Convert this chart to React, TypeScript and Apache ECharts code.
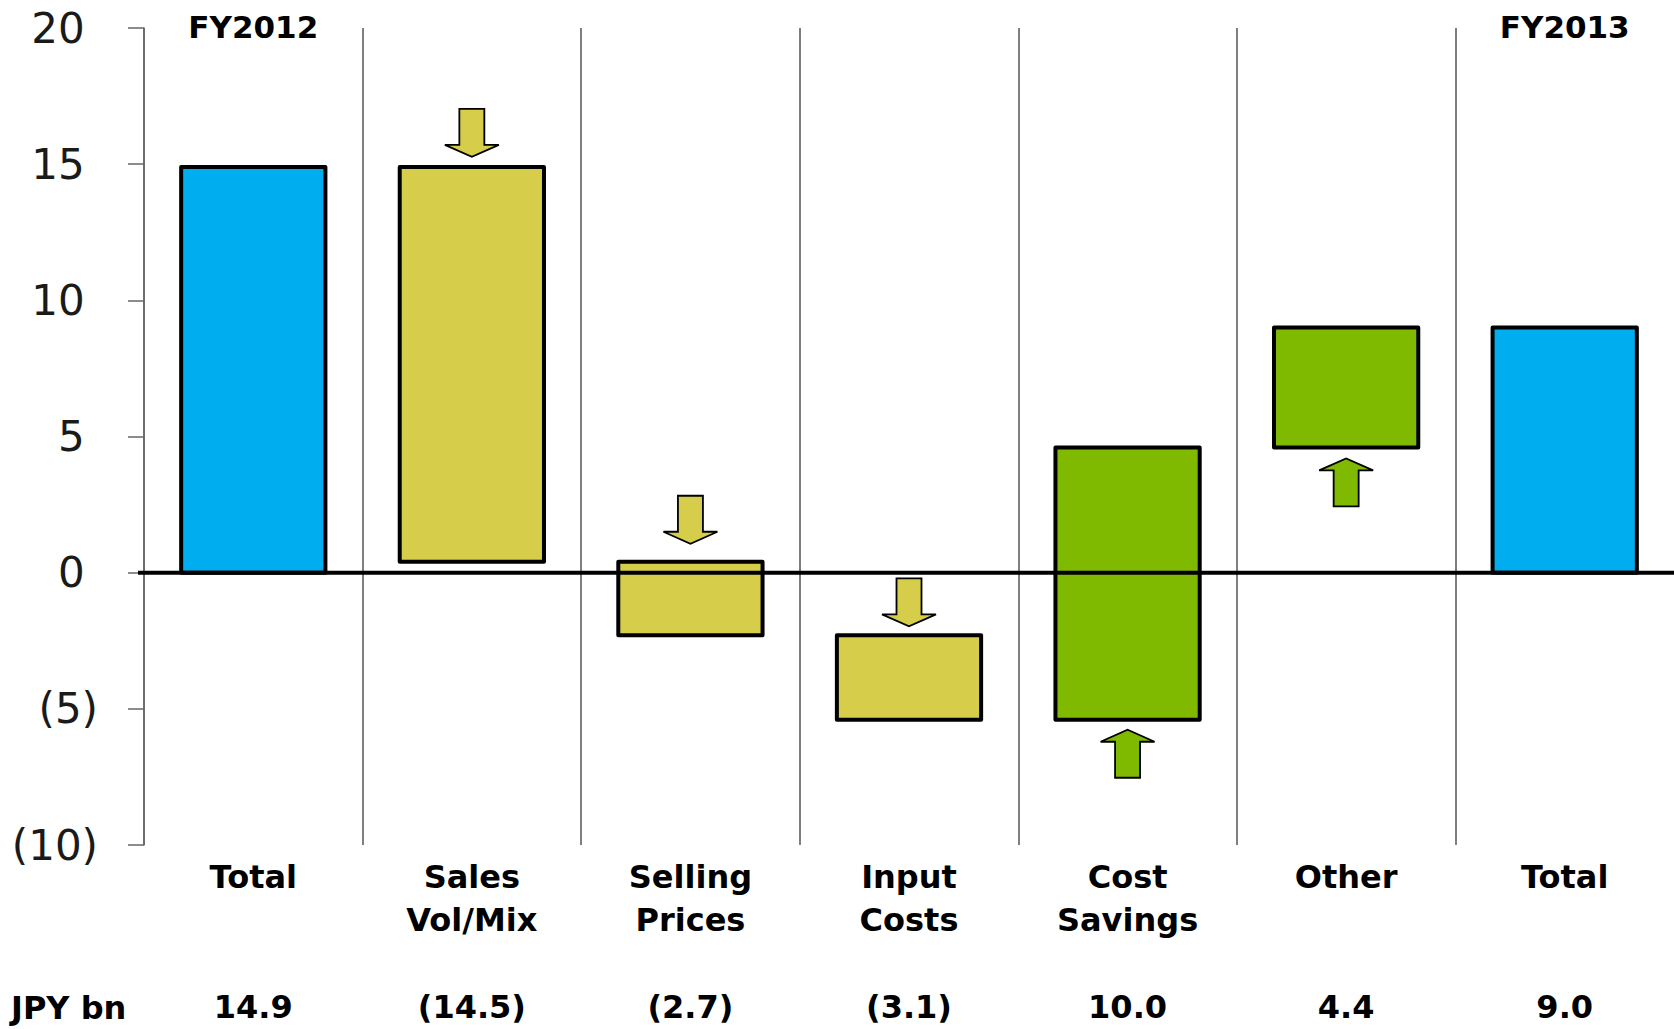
import React, { useEffect, useRef } from "react";
import * as echarts from "echarts";

// ---- data ----
const categories = ["Total", "Sales\nVol/Mix", "Selling\nPrices", "Input\nCosts", "Cost\nSavings", "Other", "Total"];
const topLabels = ["FY2012", "", "", "", "", "", "FY2013"];
const startTotal = 14.9;
const deltas = [-14.5, -2.7, -3.1, 10.0, 4.4];
const endTotal = 9.0;
const yTicks = [-10, -5, 0, 5, 10, 15, 20];

// ---- styles ----
const COLORS = { total: "#00AEEF", down: "#D6CD4A", up: "#80BA00" };
const KIND_COLORS = [COLORS.total, COLORS.down, COLORS.up];
const arrowGaps = [0, 10, 18, 9, 10, 11, 0];
const FONT = '"DejaVu Sans", Verdana, sans-serif';

function fmt(v: number) {
  return v < 0 ? `(${Math.abs(v).toFixed(1)})` : v.toFixed(1);
}

// build waterfall rows [index, low, high, kindCode]
const rows: number[][] = [];
const valueLabels: string[] = [];
rows.push([0, 0, startTotal, 0]);
valueLabels.push(fmt(startTotal));
let running = startTotal;
deltas.forEach((d, i) => {
  const next = running + d;
  rows.push([i + 1, Math.min(running, next), Math.max(running, next), d < 0 ? 1 : 2]);
  valueLabels.push(fmt(d));
  running = next;
});
rows.push([deltas.length + 1, 0, endTotal, 0]);
valueLabels.push(fmt(endTotal));

// category label + blank lines + value row (4 lines each)
const axisLabels = categories.map((c, i) => {
  const lines = c.split("\n");
  while (lines.length < 3) lines.push(" ");
  return lines.join("\n") + "\n" + valueLabels[i];
});

export default function App() {
  const ref = useRef<HTMLDivElement>(null);

  useEffect(() => {
    document.body.style.margin = "0";
    document.body.style.overflow = "hidden";
    if (!ref.current) return;
    const chart = echarts.init(ref.current, null, { renderer: "svg" });
    const lastIdx = rows.length - 1;

    const renderItem = (params: any, api: any) => {
      const idx = api.value(0);
      const low = api.value(1);
      const high = api.value(2);
      const kind = api.value(3);
      const pTop = api.coord([idx, high]);
      const pBot = api.coord([idx, low]);
      const bandW = api.size([1, 0])[0];
      const w = bandW * 0.66;
      const cx = pTop[0];
      const color = KIND_COLORS[kind];
      const children: any[] = [
        {
          type: "rect",
          shape: { x: cx - w / 2, y: pTop[1], width: w, height: pBot[1] - pTop[1] },
          style: { fill: color, stroke: "#000", lineWidth: 4, lineJoin: "round" },
        },
      ];
      const H = 48, headH = 12, headW = 54, shaftW = 25;
      const gap = arrowGaps[idx];
      if (kind === 1) {
        const tipY = pTop[1] - gap;
        const baseY = tipY - headH;
        const topY = tipY - H;
        children.push({
          type: "polygon",
          shape: {
            points: [
              [cx - shaftW / 2, topY], [cx + shaftW / 2, topY], [cx + shaftW / 2, baseY],
              [cx + headW / 2, baseY], [cx, tipY], [cx - headW / 2, baseY], [cx - shaftW / 2, baseY],
            ],
          },
          style: { fill: color, stroke: "#000", lineWidth: 1.8 },
        });
      } else if (kind === 2) {
        const tipY = pBot[1] + gap;
        const baseY = tipY + headH;
        const botY = tipY + H;
        children.push({
          type: "polygon",
          shape: {
            points: [
              [cx - shaftW / 2, botY], [cx + shaftW / 2, botY], [cx + shaftW / 2, baseY],
              [cx + headW / 2, baseY], [cx, tipY], [cx - headW / 2, baseY], [cx - shaftW / 2, baseY],
            ],
          },
          style: { fill: color, stroke: "#000", lineWidth: 1.8 },
        });
      }
      const lbl = topLabels[idx];
      if (lbl) {
        const pt = api.coord([idx, 20]);
        children.push({
          type: "text",
          x: cx,
          y: pt[1] - 1,
          style: {
            text: lbl,
            fill: "#000",
            font: `bold 31px ${FONT}`,
            align: "center",
            verticalAlign: "middle",
          },
        });
      }
      if (idx === lastIdx) {
        const cs = params.coordSys;
        const zeroY = api.coord([idx, 0])[1];
        // mask any stray vertical edge line at the far right (except the baseline)
        children.push({
          type: "rect",
          shape: { x: 1669, y: cs.y - 6, width: 10, height: zeroY - 5 - (cs.y - 6) },
          style: { fill: "#fff" },
        });
        children.push({
          type: "rect",
          shape: { x: 1669, y: zeroY + 5, width: 10, height: cs.y + cs.height + 6 - (zeroY + 5) },
          style: { fill: "#fff" },
        });
        // zero baseline drawn last so it sits on top of all bars
        children.push({
          type: "line",
          shape: { x1: cs.x - 6, y1: zeroY, x2: 1680, y2: zeroY },
          style: { stroke: "#000", lineWidth: 4 },
        });
      }
      return { type: "group", children };
    };

    const option: any = {
      animation: false,
      backgroundColor: "#fff",
      grid: { left: 144, width: 1532, top: 28, bottom: 183, containLabel: false },
      xAxis: {
        type: "category",
        data: axisLabels,
        position: "bottom",
        axisLine: { show: false, onZero: false },
        axisTick: { show: false },
        splitLine: { show: true, showMaxLine: false, lineStyle: { color: "#555", width: 1.5 } },
        axisLabel: {
          interval: 0,
          margin: 10,
          color: "#000",
          fontFamily: FONT,
          fontWeight: "bold",
          fontSize: 32,
          lineHeight: 43.5,
          verticalAlign: "top",
        },
      },
      yAxis: {
        type: "value",
        min: yTicks[0],
        max: yTicks[yTicks.length - 1],
        interval: 5,
        axisLine: { show: true, onZero: false, lineStyle: { color: "#666", width: 1.5 } },
        axisTick: { show: true, length: 16, lineStyle: { color: "#666", width: 1.5 } },
        splitLine: { show: false },
        axisLabel: {
          margin: 46,
          color: "#1a1a1a",
          fontFamily: FONT,
          fontSize: 42,
          formatter: (v: number) => (v < 0 ? `(${-v})` : `${v}\u00a0`),
        },
      },
      graphic: [
        {
          type: "text",
          left: 11,
          top: 992,
          style: { text: "JPY bn", fill: "#000", font: `bold 32px ${FONT}` },
        },
      ],
      series: [
        {
          type: "custom",
          clip: false,
          renderItem,
          encode: { x: 0, y: [1, 2] },
          data: rows,
        },
      ],
    };
    chart.setOption(option);
    return () => chart.dispose();
  }, []);

  return (
    <div
      ref={ref}
      style={{ position: "absolute", left: 0, top: 0, width: 1674, height: 1029, background: "#fff" }}
    />
  );
}
